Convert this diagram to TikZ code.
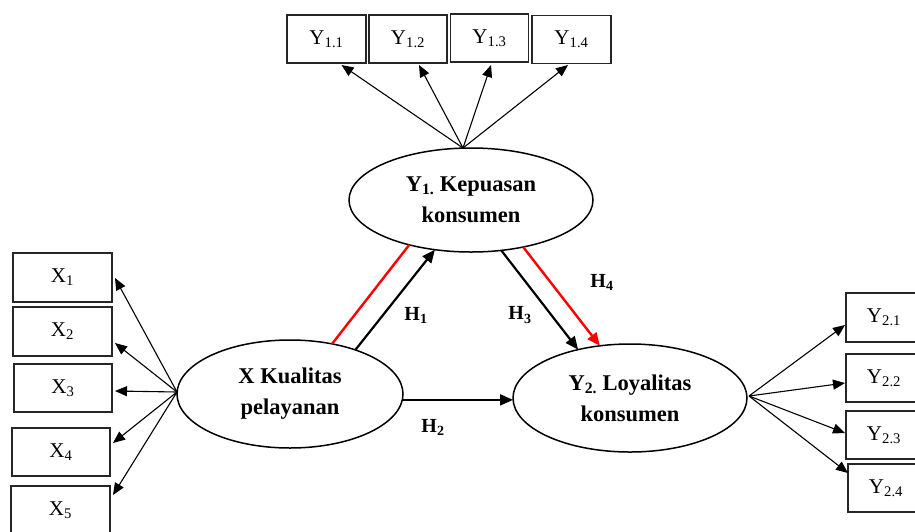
\documentclass[tikz,border=0pt]{standalone}
\usepackage{fontspec}
\setmainfont{Liberation Serif}
\usetikzlibrary{arrows.meta,shapes.geometric}
\begin{document}
\begin{tikzpicture}[x=1pt,y=-1pt,
 box/.style={draw=black!85, line width=1.8pt, minimum height=48pt, inner sep=0pt, outer sep=0pt, font=\fontsize{21}{23}\selectfont},
 latent/.style={draw, ellipse, line width=1.5pt, inner sep=0pt, outer sep=0pt, align=center, font=\fontsize{22.5}{31}\selectfont\bfseries},
 ind/.style={-{Triangle[length=12pt,width=10pt]}, line width=1.1pt},
 hyp/.style={-{Triangle[length=13pt,width=11pt]}, line width=2.2pt},
 redl/.style={red, line width=2.4pt},
 redarr/.style={red, line width=2.4pt, -{Triangle[length=13pt,width=11pt]}},
 hlab/.style={font=\fontsize{20}{22}\selectfont\bfseries}
]
\useasboundingbox (0,0) rectangle (915,531);

% latent variables
\node[latent, minimum width=244pt, minimum height=104pt] (Y1) at (471,200) {Y\textsubscript{1.} Kepuasan\\konsumen};
\node[latent, minimum width=226pt, minimum height=108pt] (X) at (290,394) {X Kualitas\\pelayanan};
\node[latent, minimum width=234pt, minimum height=108pt] (Y2) at (630,398) {Y\textsubscript{2.} Loyalitas\\konsumen};

% top indicators
\node[box, minimum width=79pt] (Y11) at (326.5,39) {Y\textsubscript{1.1}};
\node[box, minimum width=78pt] (Y12) at (408,39) {Y\textsubscript{1.2}};
\node[box, minimum width=78pt] (Y13) at (489.5,38) {Y\textsubscript{1.3}};
\node[box, minimum width=79pt] (Y14) at (571.5,39.5) {Y\textsubscript{1.4}};

% left indicators
\node[box, minimum width=99pt, minimum height=49pt] (X1) at (62.5,277.5) {X\textsubscript{1}};
\node[box, minimum width=99pt, minimum height=49pt] (X2) at (62.5,331.5) {X\textsubscript{2}};
\node[box, minimum width=98pt] (X3) at (63,388) {X\textsubscript{3}};
\node[box, minimum width=98pt] (X4) at (61,452) {X\textsubscript{4}};
\node[box, minimum width=99pt] (X5) at (60.5,510) {X\textsubscript{5}};

% right indicators
\node[box, minimum width=76pt, minimum height=49pt] (Y21) at (884,317.5) {Y\textsubscript{2.1}};
\node[box, minimum width=76pt] (Y22) at (884,378) {Y\textsubscript{2.2}};
\node[box, minimum width=76pt] (Y23) at (884,435) {Y\textsubscript{2.3}};
\node[box, minimum width=76pt] (Y24) at (886,488) {Y\textsubscript{2.4}};

% origins of indicator arrows
\coordinate (yo) at (463,148);
\coordinate (xo) at (177,392);
\coordinate (y2o) at (749,396);

\draw[ind] (yo) -- ([shift={(15,2)}]Y11.south);
\draw[ind] (yo) -- ([shift={(11,2)}]Y12.south);
\draw[ind] (yo) -- ([shift={(1.5,3)}]Y13.south);
\draw[ind] (yo) -- ([shift={(-3.5,1.5)}]Y14.south);

\draw[ind] (xo) -- ([shift={(3,0.5)}]X1.east);
\draw[ind] (xo) -- ([shift={(3,11.5)}]X2.east);
\draw[ind] (xo) -- ([shift={(3,3)}]X3.east);
\draw[ind] (xo) -- ([shift={(3,-9)}]X4.east);
\draw[ind] (xo) -- ([shift={(3,-15)}]X5.east);

\draw[ind] (y2o) -- ([shift={(-1,7.5)}]Y21.west);
\draw[ind] (y2o) -- ([shift={(-1,5)}]Y22.west);
\draw[ind] (y2o) -- ([shift={(-1,-2)}]Y23.west);
\draw[ind] (y2o) -- ([shift={(0,-15)}]Y24.west);

% structural paths
\draw[redl] (X.50) -- (Y1.216);
\draw[hyp] (X.34) -- (Y1.234);
\draw[hyp] (Y1.301) -- (Y2.137);
\draw[redarr] (Y1.318) -- (Y2.120);
\draw[hyp] (X.-3) -- (Y2.west |- X.-3);

% labels
\node[hlab] (h1) at (416,315) {H\textsubscript{1}};
\node[hlab] (h2) at (433,427) {H\textsubscript{2}};
\node[hlab] (h3) at (520,315) {H\textsubscript{3}};
\node[hlab] (h4) at (602,282) {H\textsubscript{4}};
\end{tikzpicture}
\end{document}
